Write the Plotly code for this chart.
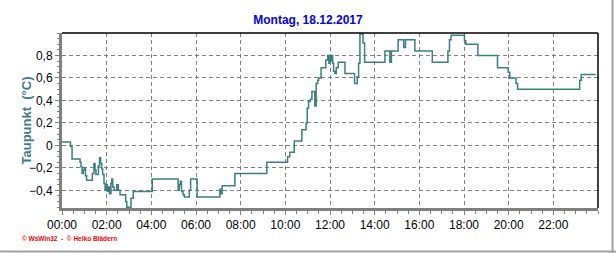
import plotly.graph_objects as go

title_text = "Montag, 18.12.2017"
y_title = "Taupunkt  (°C)"
credit = "© WsWin32  -  © Heiko Blädern"

hours = [0.00, 0.38, 0.45, 0.81, 0.85, 0.90, 0.95, 1.00, 1.05, 1.10, 1.36, 1.43, 1.48, 1.52,
         1.63, 1.68, 1.73, 1.78, 1.82, 1.88, 1.93, 1.98, 2.03, 2.08, 2.13, 2.19, 2.23, 2.27,
         2.33, 2.45, 2.52, 2.60, 2.85, 2.90, 3.09, 3.19, 4.04, 5.20, 5.25, 5.30, 5.35, 5.42,
         5.48, 5.70, 5.76, 6.05, 7.07, 7.12, 7.17, 7.74, 9.17, 10.10, 10.20, 10.40, 10.74,
         10.93, 10.98, 11.04, 11.12, 11.19, 11.32, 11.38, 11.45, 11.49, 11.60, 11.81, 11.90,
         11.95, 11.99, 12.02, 12.05, 12.07, 12.12, 12.16, 12.22, 12.28, 12.37, 12.67, 13.10,
         13.22, 13.28, 13.34, 13.48, 13.55, 14.46, 14.68, 14.75, 15.05, 15.30, 15.38, 15.80,
         16.58, 17.28, 17.35, 17.42, 18.02, 18.08, 18.62, 19.50, 19.98, 20.05, 20.33, 20.40,
         23.18, 23.25, 23.90]
taupunkt = [0.03, -0.01, -0.12, -0.15, -0.19, -0.25, -0.22, -0.20, -0.27, -0.31, -0.25, -0.16, -0.22, -0.26,
            -0.18, -0.11, -0.16, -0.21, -0.26, -0.34, -0.40, -0.35, -0.41, -0.37, -0.43, -0.34, -0.30, -0.37,
            -0.40, -0.35, -0.40, -0.44, -0.50, -0.55, -0.47, -0.41, -0.30, -0.40, -0.35, -0.32, -0.41, -0.44,
            -0.46, -0.40, -0.30, -0.46, -0.39, -0.43, -0.36, -0.25, -0.15, -0.10, -0.06, 0.04, 0.14,
            0.20, 0.33, 0.39, 0.41, 0.48, 0.35, 0.55, 0.58, 0.60, 0.69, 0.76, 0.80,
            0.73, 0.76, 0.80, 0.75, 0.80, 0.73, 0.66, 0.64, 0.69, 0.74, 0.64, 0.55,
            0.61, 0.73, 0.99, 0.91, 0.74, 0.84, 0.74, 0.84, 0.94, 0.87, 0.94, 0.84,
            0.74, 0.84, 0.94, 0.98, 0.93, 0.90, 0.80, 0.69, 0.65, 0.60, 0.55, 0.50,
            0.58, 0.63, 0.63]

x_tickvals = [0, 2, 4, 6, 8, 10, 12, 14, 16, 18, 20, 22]
x_ticktext = ["00:00", "02:00", "04:00", "06:00", "08:00", "10:00", "12:00",
              "14:00", "16:00", "18:00", "20:00", "22:00"]
y_tickvals = [-0.4, -0.2, 0, 0.2, 0.4, 0.6, 0.8]

fig = go.Figure()
fig.add_trace(go.Scatter(x=hours, y=taupunkt, mode="lines", line_shape="hv",
                         line=dict(color="rgb(58,128,128)", width=1.5), hoverinfo="skip"))

W, H = 616, 253
L, R, T, B = 62, 18, 33, 45
pw, ph = W - L - R, H - T - B

def px_x(p):
    return (p - L) / pw

def px_y(p):
    return (H - B - p) / ph

fig.update_layout(
    width=W, height=H, margin=dict(l=L, r=R, t=T, b=B),
    paper_bgcolor="white", plot_bgcolor="white", showlegend=False,
    separators=",.",
    font=dict(family="Liberation Sans, Arial, sans-serif", size=12, color="black"),
    title=dict(text="<b>" + title_text + "</b>", x=0.5, xref="container", xanchor="center",
               y=1 - 20 / H, yref="container", yanchor="middle",
               font=dict(size=12, color="#0000FF")),
)
fig.update_xaxes(range=[0, 24], tickvals=x_tickvals, ticktext=x_ticktext,
                 showgrid=True, gridcolor="#808080", griddash="4px,3px", gridwidth=1,
                 ticks="outside", ticklen=4, tickcolor="#808080", tickwidth=1,
                 minor=dict(dtick=0.5, tick0=0, ticks="outside", ticklen=3,
                            tickcolor="#808080", showgrid=False),
                 showline=True, linecolor="#808080", linewidth=3, zeroline=False,
                 tickfont=dict(size=12))
fig.update_yaxes(range=[-0.557, 1.0], tickvals=y_tickvals,
                 showgrid=True, gridcolor="#808080", griddash="4px,3px", gridwidth=1,
                 ticks="outside", ticklen=4, tickcolor="#808080", tickwidth=1,
                 minor=dict(dtick=0.05, tick0=0, ticks="outside", ticklen=2,
                            tickcolor="#808080", showgrid=False),
                 showline=True, linecolor="#808080", linewidth=3, zeroline=False,
                 tickfont=dict(size=12))

# top and right plot border (black)
fig.add_shape(type="line", xref="paper", yref="paper", x0=0, x1=1, y0=1, y1=1,
              line=dict(color="black", width=1.5))
fig.add_shape(type="line", xref="paper", yref="paper", x0=1, x1=1, y0=0, y1=1,
              line=dict(color="black", width=1.5))
# outer window frame (gray, right and bottom)
fig.add_shape(type="line", xref="paper", yref="paper", x0=px_x(612.5), x1=px_x(612.5),
              y0=px_y(0), y1=px_y(253), line=dict(color="#a0a0a0", width=2))
fig.add_shape(type="line", xref="paper", yref="paper", x0=px_x(0), x1=px_x(616),
              y0=px_y(251.5), y1=px_y(251.5), line=dict(color="#a0a0a0", width=2))

fig.add_annotation(text="<b>" + y_title + "</b>", xref="paper", yref="paper",
                   x=px_x(26), y=0.5, textangle=-90, showarrow=False,
                   xanchor="center", yanchor="middle",
                   font=dict(size=13, color="rgb(58,128,128)"))
fig.add_annotation(text="<b>" + credit + "</b>", xref="paper", yref="paper",
                   x=px_x(20), y=px_y(239), showarrow=False,
                   xanchor="left", yanchor="middle",
                   font=dict(size=6.5, color="red"))

fig.write_html("out.html")
